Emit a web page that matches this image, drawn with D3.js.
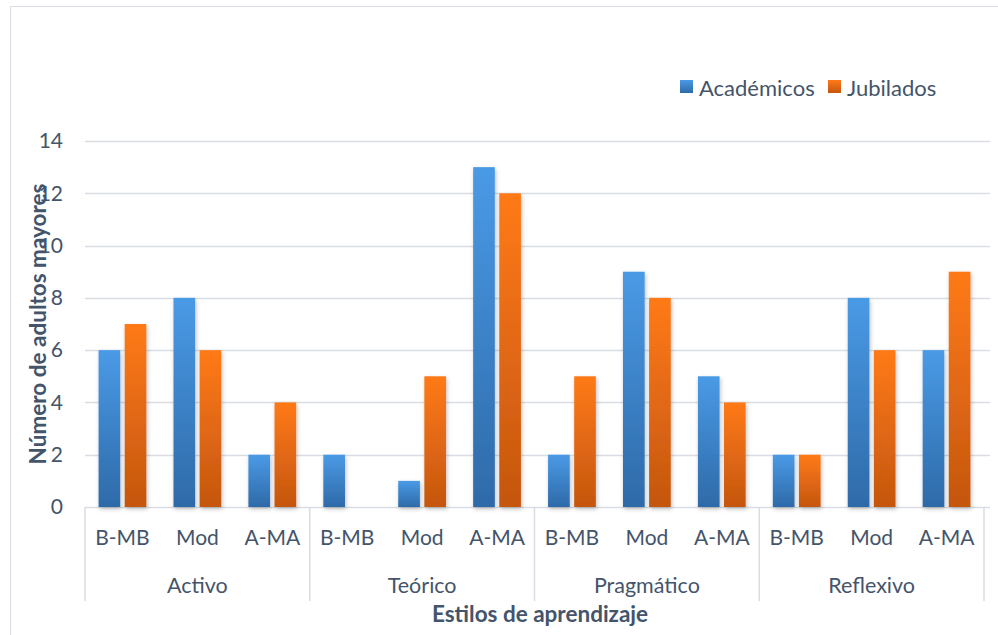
<!DOCTYPE html>
<html><head><meta charset="utf-8">
<script src="https://cdn.jsdelivr.net/npm/d3@7"></script>
<style>body{margin:0;background:#fff}svg{display:block}</style>
</head><body>
<script>
const groups = ["Activo","Teórico","Pragmático","Reflexivo"];
const levels = ["B-MB","Mod","A-MA"];
const seriesNames = ["Académicos","Jubilados"];
const academicos = [6,8,2, 2,1,13, 2,9,5, 2,8,6];
const jubilados  = [7,6,4, 0,5,12, 5,8,4, 2,6,9];
const yTicks = [0,2,4,6,8,10,12,14];

(function(){
const W=998,H=635;
const svg=d3.select("body").append("svg").attr("width",W).attr("height",H);
const font="Lato, 'Liberation Sans', sans-serif";
const txt="#44546a";

const defs=svg.append("defs");
function grad(id,t,b){const g=defs.append("linearGradient").attr("id",id).attr("x1",0).attr("y1",0).attr("x2",0).attr("y2",1);
 g.append("stop").attr("offset","0%").attr("stop-color",t);g.append("stop").attr("offset","100%").attr("stop-color",b);}
grad("gB","#4a9ae6","#2e6aa8");grad("gO","#ff7a18","#c4560f");
const f=defs.append("filter").attr("id","sh").attr("x","-30%").attr("y","-10%").attr("width","160%").attr("height","130%");
f.append("feDropShadow").attr("dx",1).attr("dy",2).attr("stdDeviation",2).attr("flood-color","#000").attr("flood-opacity",0.25);

svg.append("rect").attr("x",10.5).attr("y",6.5).attr("width",995).attr("height",640).attr("fill","#fff").attr("stroke","#d9dde3");

const pl=85,pr=984,pt=141,pb=507;
const cats=[];groups.forEach(g=>levels.forEach(l=>cats.push(g+"|"+l)));
const x=d3.scaleBand().domain(cats).range([pl,pr]).paddingInner(0).paddingOuter(0);
const y=d3.scaleLinear().domain([0,14]).range([pb,pt]);
const xs=d3.scaleBand().domain(seriesNames).range([0,x.bandwidth()]).paddingInner(0.17).paddingOuter(0.52);

svg.append("g").selectAll("line").data(yTicks).join("line")
 .attr("x1",pl).attr("x2",pr+6).attr("y1",d=>Math.round(y(d))+0.5).attr("y2",d=>Math.round(y(d))+0.5)
 .attr("stroke","#d9dde3").attr("stroke-width",1.5);
svg.append("g").selectAll("text").data(yTicks).join("text")
 .attr("x",63).attr("y",d=>y(d)).attr("dy","0.35em").attr("text-anchor","end")
 .attr("font-family",font).attr("font-size",21).attr("fill",txt).text(d=>d);

const data=[];cats.forEach((c,i)=>{data.push({c,s:"Académicos",v:academicos[i]});data.push({c,s:"Jubilados",v:jubilados[i]});});
svg.append("g").selectAll("rect").data(data.filter(d=>d.v>0)).join("rect")
 .attr("x",d=>x(d.c)+xs(d.s)).attr("width",xs.bandwidth())
 .attr("y",d=>y(d.v)).attr("height",d=>y(0)-y(d.v))
 .attr("fill",d=>d.s==="Académicos"?"url(#gB)":"url(#gO)").attr("filter","url(#sh)");

const divs=[0,3,6,9,12].map(i=>i<12?x(cats[i]):pr);
svg.append("g").selectAll("line").data(divs).join("line")
 .attr("x1",d=>d).attr("x2",d=>d).attr("y1",pb).attr("y2",601)
 .attr("stroke","#d9dde3").attr("stroke-width",1.5);
svg.append("g").selectAll("text").data(cats).join("text")
 .attr("x",d=>x(d)+x.bandwidth()/2).attr("y",538).attr("dy","0.35em").attr("text-anchor","middle")
 .attr("font-family",font).attr("font-size",21).attr("fill",txt).text(d=>d.split("|")[1]);
svg.append("g").selectAll("text").data(groups).join("text")
 .attr("x",g=>x(g+"|Mod")+x.bandwidth()/2).attr("y",585).attr("dy","0.35em").attr("text-anchor","middle")
 .attr("font-family",font).attr("font-size",21.5).attr("fill",txt).text(d=>d);

svg.append("text").attr("x",540).attr("y",614).attr("dy","0.35em").attr("text-anchor","middle")
 .attr("font-family",font).attr("font-size",22.5).attr("font-weight","bold").attr("fill",txt).text("Estilos de aprendizaje");
svg.append("text").attr("transform","translate(38,324) rotate(-90)").attr("dy","0.35em").attr("text-anchor","middle")
 .attr("font-family",font).attr("font-size",22.5).attr("font-weight","bold").attr("fill",txt).text("Número de adultos mayores");

const lg=svg.append("g");
const lx=[680,828];
seriesNames.forEach((s,i)=>{
 lg.append("rect").attr("x",lx[i]).attr("y",80).attr("width",13).attr("height",13).attr("fill",i?"url(#gO)":"url(#gB)");
 lg.append("text").attr("x",lx[i]+19).attr("y",96).attr("font-family",font).attr("font-size",22).attr("fill",txt).text(s);
});
})();
</script>
</body></html>
